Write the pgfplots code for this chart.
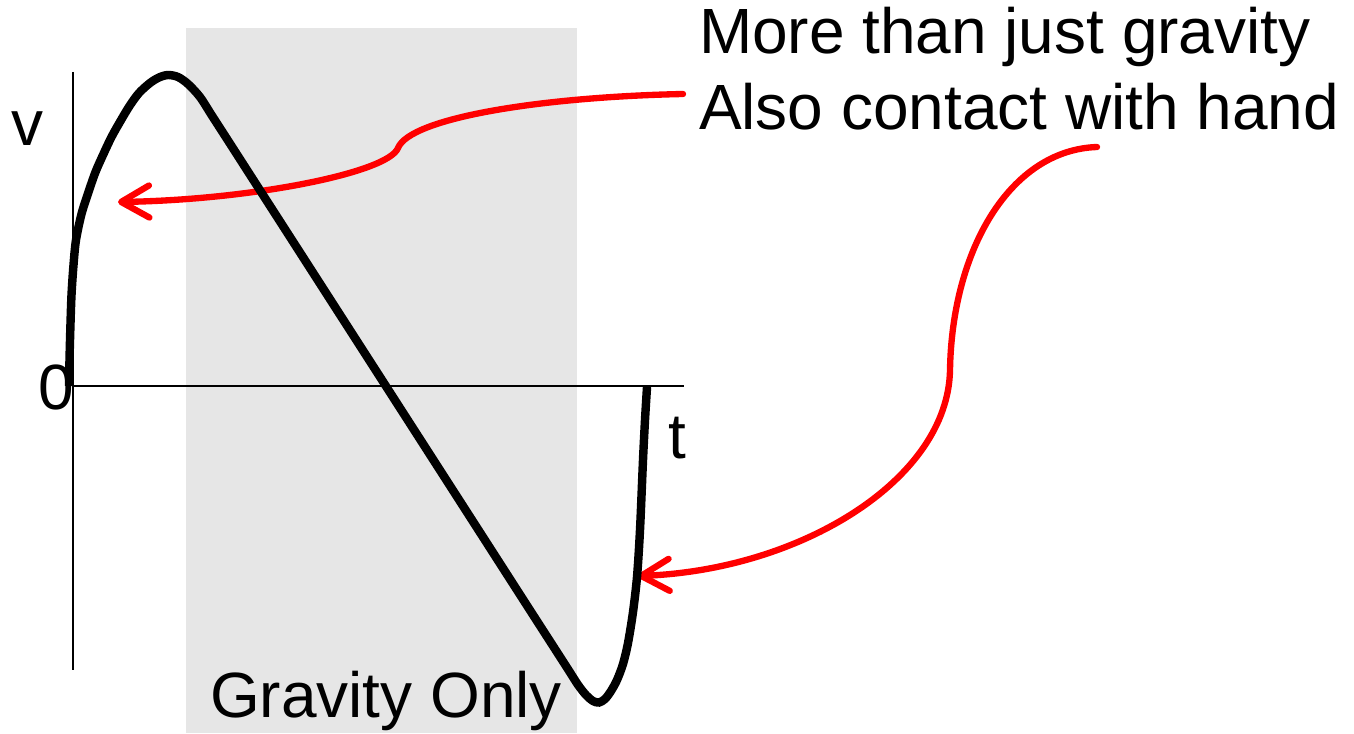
\documentclass[border=0pt]{standalone}
\usepackage{fontspec}
\setmainfont{Liberation Sans}
\usepackage{pgfplots}
\pgfplotsset{compat=1.18}
\usetikzlibrary{arrows.meta}
\definecolor{bandgray}{HTML}{E6E6E6}
\definecolor{arrowred}{HTML}{FF0000}
\tikzset{lbl/.style={font=\fontsize{18.2}{22}\selectfont,inner sep=0pt,outer sep=0pt},
  note/.style={arrowred,line width=1.8pt,line cap=round,
    -{Straight Barb[length=2.8mm,width=3.2mm,round]}}}

\begin{document}
\begin{tikzpicture}
\begin{axis}[width=135.4mm,height=73.3mm,scale only axis,
  xmin=0,xmax=1354,ymin=0,ymax=733,y dir=reverse,
  hide axis,clip=false]
% page frame
\path (axis cs:0,0) rectangle (axis cs:1354,733);
% gravity-only band
\fill[bandgray] (axis cs:186,28) rectangle (axis cs:577,733);
% axes
\addplot[black,line width=0.6pt] coordinates {(73,72) (73,670)};
\addplot[black,line width=0.6pt] coordinates {(73,386) (684,386)};
% annotation arrows
\draw[note] (axis cs:683,94) .. controls (axis cs:540,97) and (axis cs:410,118)
  .. (axis cs:398,148) .. controls (axis cs:388,173) and (axis cs:250,200)
  .. (axis cs:118,202);
\draw[note] (axis cs:1097,147) .. controls (axis cs:1010,150) and (axis cs:952,250)
  .. (axis cs:950,370) .. controls (axis cs:948,480) and (axis cs:800,570)
  .. (axis cs:638,576);
% velocity curve
\addplot[black,line width=2.4pt,smooth] coordinates {
  (69,386) (69.5,360) (70.3,330) (71.5,295) (73.5,265) (76,240)
  (81.5,214) (88.5,192) (95.5,172) (103,155) (111.5,137) (120.5,121)
  (129.5,106) (139,93) (150,83) (159,77.5) (168,75) (178,77) (188,84)
  (200,97) (212,115.7) (226,137.4) (260,190.3) (300,252.5) (387,387.8)
  (480,532.4) (530,610.2) (555,649) (568,669.2) (578,684.8) (586,695)
  (593,701) (599,702.5) (605,699) (611,691) (617,680) (623,664)
  (628,643) (633,612) (637,577) (640,530) (643,460) (645,420) (647,387)};
% labels
\node[lbl,anchor=base] at (axis cs:27,146) {v};
\node[lbl,anchor=base] at (axis cs:56,409) {0};
\node[lbl,anchor=base] at (axis cs:677,458) {t};
\node[lbl,anchor=base west] at (axis cs:210,717) {Gravity Only};
\node[lbl,anchor=base west] at (axis cs:699,54) {More than just gravity};
\node[lbl,anchor=base west] at (axis cs:699,130) {Also contact with hand};
\end{axis}
\end{tikzpicture}
\end{document}
